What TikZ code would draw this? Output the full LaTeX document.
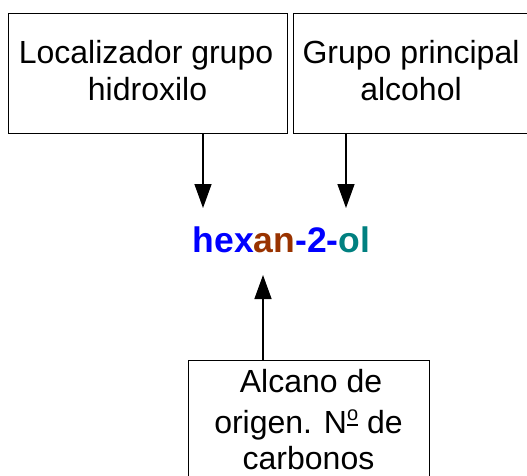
\documentclass[tikz,border=0pt]{standalone}
\usepackage{fontspec}
\setmainfont{Liberation Sans}
\usetikzlibrary{arrows.meta}
\definecolor{cblue}{RGB}{0,0,255}
\definecolor{cbrown}{RGB}{153,51,0}
\definecolor{cteal}{RGB}{0,128,128}
\newcommand\myordo{\leavevmode\rlap{\rule[7.5pt]{11pt}{1.7pt}}\raisebox{12.5pt}{\fontsize{20pt}{20pt}\selectfont o}}
\begin{document}
\begin{tikzpicture}[x=1pt,y=-1pt,
  box/.style={draw=black,line width=1pt,rectangle,inner sep=0pt},
  txt/.style={inner sep=0pt,anchor=base,font=\fontsize{32pt}{38pt}\selectfont},
  arr/.style={line width=1.4pt,-{Triangle[width=17pt,length=24pt]}}]
\useasboundingbox (0,0) rectangle (527,475);
% boxes
\node[box,minimum width=279pt,minimum height=120pt] (b1) at (147.5,73) {};
\node[box,minimum width=236pt,minimum height=120pt] (b2) at (411,73) {};
\node[box,minimum width=241pt,minimum height=130pt] (b3) at (308.5,425) {};
% texts
\node[txt] (t1a) at (146,63) {Localizador grupo};
\node[txt] (t1b) at (147.5,100) {hidroxilo};
\node[txt] (t2a) at (411,63) {Grupo principal};
\node[txt] (t2b) at (411,100) {alcohol};
\node[txt] (t3a) at (311,392) {Alcano de};
\node[txt] (t3b) at (308.5,433) {origen. N\myordo\ de};
\node[txt] (t3c) at (308.5,469) {carbonos};
\node[inner sep=0pt,anchor=base,font=\fontsize{35.5pt}{40pt}\selectfont\bfseries] (h) at (281.5,252)
  {\textcolor{cblue}{hex}\textcolor{cbrown}{an}\textcolor{cblue}{-2-}\textcolor{cteal}{ol}};
% arrow ends
\coordinate (e1) at (203,208);
\coordinate (e2) at (346,208);
\coordinate (e3) at (263,275);
\draw[arr] (b1.south -| e1) -- (e1);
\draw[arr] (b2.south -| e2) -- (e2);
\draw[arr] (b3.north -| e3) -- (e3);
\end{tikzpicture}
\end{document}
